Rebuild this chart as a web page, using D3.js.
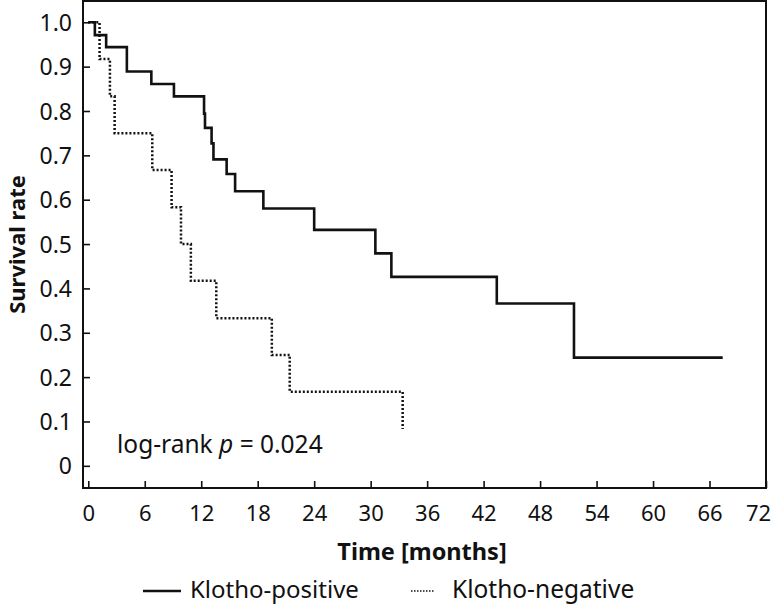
<!DOCTYPE html>
<html><head><meta charset="utf-8">
<script src="https://cdn.jsdelivr.net/npm/d3@7"></script>
<style>body{margin:0;background:#fff}svg{display:block}text{font-family:"Noto Sans",sans-serif;fill:#111}</style>
</head><body><svg id="c" width="775" height="604"></svg>
<script>
const positiveTimes = [0, 0.7, 1.9, 4.1, 6.7, 9.1, 12.3, 12.4, 13.1, 13.3, 14.7, 15.6, 18.6, 24.0, 30.5, 32.2, 43.4, 51.6];
const positiveSurv  = [1.0, 0.971, 0.944, 0.889, 0.861, 0.833, 0.794, 0.762, 0.727, 0.691, 0.658, 0.619, 0.580, 0.532, 0.479, 0.426, 0.366, 0.244];
const positiveEnd = 67.4;
const negativeTimes = [0, 1.2, 2.3, 2.8, 6.8, 8.85, 9.85, 10.9, 13.6, 19.5, 21.4, 33.4];
const negativeSurv  = [1.0, 0.917, 0.833, 0.75, 0.667, 0.583, 0.5, 0.417, 0.333, 0.25, 0.167, 0.083];
const xTicks = [0, 6, 12, 18, 24, 30, 36, 42, 48, 54, 60, 66, 72];
const yTicks = [0, 0.1, 0.2, 0.3, 0.4, 0.5, 0.6, 0.7, 0.8, 0.9, 1.0];
const yTickLabels = ["0", "0.1", "0.2", "0.3", "0.4", "0.5", "0.6", "0.7", "0.8", "0.9", "1.0"];
const seriesNames = ["Klotho-positive", "Klotho-negative"];

const svg = d3.select("#c");
const L = 83, R = 766, T = 1, B = 488;
const x = d3.scaleLinear().domain([-0.56, 72]).range([L, R]);
const y = d3.scaleLinear().domain([-0.05, 1.048]).range([B, T]);

// frame
svg.append("rect").attr("x", L).attr("y", T).attr("width", R - L).attr("height", B - T)
  .attr("fill", "none").attr("stroke", "#111").attr("stroke-width", 2);

const xAxis = svg.append("g").attr("transform", `translate(0,${B})`)
  .call(d3.axisBottom(x).tickValues(xTicks).tickSizeInner(-7).tickSizeOuter(0).tickPadding(16).tickFormat(d3.format("d")));
const yAxis = svg.append("g").attr("transform", `translate(${L},0)`)
  .call(d3.axisLeft(y).tickValues(yTicks).tickSizeInner(-7).tickSizeOuter(0).tickPadding(11).tickFormat((d, i) => yTickLabels[i]));
[xAxis, yAxis].forEach(g => {
  g.select(".domain").remove();
  g.selectAll(".tick line").attr("stroke", "#111").attr("stroke-width", 1.6);
  g.selectAll(".tick text").attr("fill", "#111").attr("font-family", "Noto Sans");
});
xAxis.selectAll(".tick text").attr("font-size", 22).attr("dy", null).attr("y", 33)
  .attr("dx", d => d === 72 ? -8 : 0);
yAxis.selectAll(".tick text").attr("font-size", 23).attr("dy", "0.35em");

// curves
function stepPts(ts, ss, end) {
  const pts = ts.map((t, i) => [t, ss[i]]);
  if (end != null) pts.push([end, ss[ss.length - 1]]);
  return pts;
}
const line = d3.line().x(d => x(d[0])).y(d => y(d[1])).curve(d3.curveStepAfter);
svg.append("path").attr("d", line(stepPts(negativeTimes, negativeSurv, null)))
  .attr("fill", "none").attr("stroke", "#111")
  .attr("stroke-width", 2.5).attr("stroke-dasharray", "2,2");
svg.append("path").attr("d", line(stepPts(positiveTimes, positiveSurv, positiveEnd)))
  .attr("fill", "none").attr("stroke", "#111").attr("stroke-width", 2.6);

// log-rank
const lr = svg.append("text").attr("x", 117).attr("y", 453).attr("font-size", 24.5);
lr.append("tspan").text("log-rank ");
lr.append("tspan").attr("font-style", "italic").text("p");
lr.append("tspan").text(" = 0.024");

// axis titles
svg.append("text").attr("x", 422).attr("y", 560).attr("text-anchor", "middle")
  .attr("font-size", 23.5).attr("font-weight", "bold").text("Time [months]");
svg.append("text").attr("transform", `translate(25,${(T + B) / 2}) rotate(-90)`).attr("text-anchor", "middle")
  .attr("font-size", 22).attr("font-weight", "bold").text("Survival rate");

// legend
const leg = svg.append("g");
leg.append("line").attr("x1", 143).attr("x2", 181).attr("y1", 591).attr("y2", 591)
  .attr("stroke", "#111").attr("stroke-width", 2.6);
leg.append("text").attr("x", 190).attr("y", 598).attr("font-size", 24).text(seriesNames[0]);
leg.append("line").attr("x1", 411).attr("x2", 435).attr("y1", 591).attr("y2", 591)
  .attr("stroke", "#111").attr("stroke-width", 1.5).attr("stroke-dasharray", "1.5,1.5");
leg.append("text").attr("x", 452).attr("y", 598).attr("font-size", 24.5).text(seriesNames[1]);
</script></body></html>
